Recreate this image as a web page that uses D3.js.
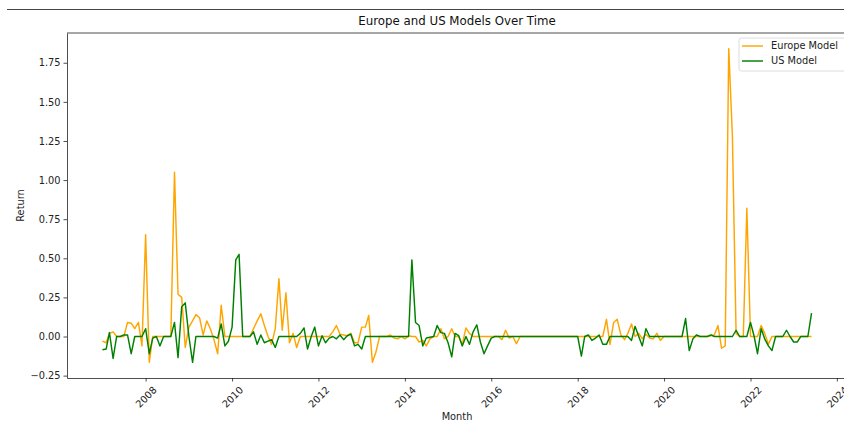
<!DOCTYPE html>
<html>
<head>
<meta charset="utf-8">
<script src="https://cdn.jsdelivr.net/npm/d3@7"></script>
<style>
  body { margin: 0; background: #fff; }
  svg { display: block; font-family: "DejaVu Sans", sans-serif; }
</style>
</head>
<body>
<script>
// monthly returns, 2007-01 .. 2023-06
var startMonth = new Date(2007, 0, 1);
var endMonth = new Date(2023, 5, 1);

var europe = [
  -0.03, -0.04, 0.02, 0.03, 0, 0, 0, 0.09, 0.085, 0.05, 0.09, -0.06,
  0.65, -0.165, 0, 0, 0, 0, 0, 0, 1.05, 0.27, 0.25, -0.07,
  0.06, 0.1, 0.14, 0.12, 0.01, 0.1, 0.05, -0.02, -0.11, 0.2, 0, 0,
  0, 0, 0, 0, 0, 0, 0.05, 0.1, 0.145, 0.07, 0, -0.05,
  0.05, 0.37, 0.04, 0.28, -0.04, 0.02, -0.07, 0, 0, 0, 0, 0,
  0, 0, 0, 0, 0.03, 0.07, 0.015, 0.01, 0.005, 0.02, -0.04, -0.04,
  0.06, 0.06, 0.135, -0.165, -0.1, 0, 0, 0, 0.01, -0.01, -0.015, 0,
  -0.015, 0.005, 0, 0, -0.035, -0.025, -0.06, -0.015, 0, 0, 0.05, -0.015,
  0, 0.05, 0, 0, -0.05, 0.055, 0.02, 0, 0, 0, 0, 0,
  0, 0, 0, -0.02, 0.04, -0.01, 0, -0.045, 0, 0, 0, 0,
  0, 0, 0, 0, 0, 0, 0, 0, 0, 0, 0, 0,
  0, 0, 0, 0, 0, 0, 0, 0, 0.11, -0.05, 0.09, 0.11,
  0.01, -0.02, 0.02, 0.08, 0, 0.02, -0.015, 0.015, -0.01, -0.015, 0.02, -0.025,
  0, 0, 0, 0, 0, 0, 0, 0, 0, 0, 0, 0,
  0, 0.005, 0.01, 0.07, -0.075, -0.06, 1.84, 1.28, 0.02, 0, 0, 0.82,
  0, 0, 0, 0.07, 0.02, -0.05, 0, 0, 0, 0, 0, 0,
  0, 0, 0, 0, 0, 0
];

var us = [
  -0.085, -0.08, 0.025, -0.14, 0, 0, 0.01, 0.01, -0.11, 0, 0, 0,
  0.05, -0.11, -0.01, 0, -0.06, 0, 0, 0, 0.09, -0.135, 0.19, 0.215,
  0, -0.165, 0, 0, 0, 0, 0, 0, -0.01, 0.08, -0.06, -0.03,
  0.06, 0.49, 0.525, 0, 0, 0, 0.03, -0.05, 0.01, -0.04, -0.03, -0.02,
  -0.07, 0, 0, 0, 0, 0, 0, 0.02, 0.055, -0.08, 0, 0.06,
  -0.06, 0.005, -0.04, -0.01, 0, -0.015, 0.01, -0.02, 0.005, 0.015, -0.06, -0.05,
  -0.08, 0, 0, 0, 0, 0, 0, 0, 0, 0, 0, 0,
  0, 0, 0.49, 0.09, 0.07, -0.06, -0.01, -0.005, 0, 0.07, 0.025, 0.02,
  -0.04, -0.13, 0.02, 0.005, -0.06, 0, -0.05, 0.03, 0.075, -0.035, -0.11, -0.06,
  -0.01, 0, 0, 0, 0, 0, 0, 0, 0, 0, 0, 0,
  0, 0, 0, 0, 0, 0, 0, 0, 0, 0, 0, 0,
  0, -0.125, 0, 0.01, -0.025, -0.01, 0.01, -0.05, -0.05, 0, 0, 0,
  0, 0, 0, -0.025, 0.065, 0, -0.06, 0.05, 0, 0, 0, 0,
  0, 0, 0, 0, 0, 0, 0.115, -0.09, -0.015, 0.01, 0, 0,
  0, 0.01, 0, 0, 0, 0, 0, 0, 0.04, 0, 0, 0,
  0.09, 0, -0.11, 0.05, -0.015, -0.06, -0.09, 0, 0, 0, 0.04, 0,
  -0.035, -0.035, 0, 0, 0, 0.15
];

var seriesNames = ["Europe Model", "US Model"];
var seriesColors = ["orange", "green"];
var yTicks = [-0.25, 0, 0.25, 0.5, 0.75, 1.0, 1.25, 1.5, 1.75];
var xTickYears = [2008, 2010, 2012, 2014, 2016, 2018, 2020, 2022, 2024];

var width = 844, height = 423;
var plotL = 67, plotR = 847, plotT = 33, plotB = 378;

var months = d3.timeMonth.range(startMonth, d3.timeMonth.offset(endMonth, 1));

var svg = d3.select("body").append("svg")
    .attr("width", width).attr("height", height);

// separator line above the figure
svg.append("line")
    .attr("x1", 7).attr("x2", width).attr("y1", 9.5).attr("y2", 9.5)
    .attr("stroke", "#444").attr("stroke-width", 1);

// matplotlib style 5% margins
var span = endMonth - startMonth;
var x = d3.scaleTime()
    .domain([new Date(+startMonth - span * 0.05), new Date(+endMonth + span * 0.05)])
    .range([plotL, plotR]);

var allVals = europe.concat(us);
var yMin = d3.min(allVals), yMax = d3.max(allVals);
var pad = (yMax - yMin) * 0.05;
var y = d3.scaleLinear()
    .domain([yMin - pad, yMax + pad])
    .range([plotB, plotT]);

// series
var line = d3.line()
    .x(function(d, i) { return x(months[i]); })
    .y(function(d) { return y(d); });

[europe, us].forEach(function(s, k) {
  svg.append("path")
      .datum(s)
      .attr("fill", "none")
      .attr("stroke", seriesColors[k])
      .attr("stroke-width", 1.45)
      .attr("stroke-linejoin", "round")
      .attr("d", line);
});

// axes
var xAxis = svg.append("g")
    .attr("transform", "translate(0," + plotB + ")")
    .call(d3.axisBottom(x)
      .tickValues(xTickYears.map(function(yr) { return new Date(yr, 0, 1); }))
      .tickFormat(d3.timeFormat("%Y"))
      .tickSize(3.5).tickSizeOuter(0));

xAxis.selectAll("text")
    .attr("y", 0).attr("dy", null)
    .attr("text-anchor", "middle")
    .attr("dominant-baseline", "central")
    .attr("transform", "translate(0,19) rotate(-45)");

var yAxis = svg.append("g")
    .attr("transform", "translate(" + plotL + ",0)")
    .call(d3.axisLeft(y)
      .tickValues(yTicks)
      .tickFormat(function(d) { return d3.format(".2f")(d).replace("-", "\u2212"); })
      .tickSize(3.5).tickSizeOuter(0));

[xAxis, yAxis].forEach(function(ax) {
  ax.selectAll("text").attr("font-size", 9.8).attr("fill", "#222")
      .attr("font-family", "DejaVu Sans");
  ax.selectAll("line").attr("stroke", "#222").attr("stroke-width", 0.8);
  ax.select(".domain").attr("stroke", "#222").attr("stroke-width", 0.8);
});

// top spine
svg.append("line")
    .attr("x1", plotL).attr("x2", plotR).attr("y1", plotT).attr("y2", plotT)
    .attr("stroke", "#222").attr("stroke-width", 0.8);

// labels
svg.append("text")
    .attr("x", (plotL + plotR) / 2).attr("y", 25)
    .attr("text-anchor", "middle")
    .attr("font-size", 11.8).attr("fill", "#111")
    .text("Europe and US Models Over Time");

svg.append("text")
    .attr("x", (plotL + plotR) / 2).attr("y", 420)
    .attr("text-anchor", "middle")
    .attr("font-size", 9.8).attr("fill", "#222")
    .text("Month");

svg.append("text")
    .attr("transform", "translate(24," + ((plotT + plotB) / 2) + ") rotate(-90)")
    .attr("text-anchor", "middle")
    .attr("font-size", 9.8).attr("fill", "#222")
    .text("Return");

// legend
var legend = svg.append("g").attr("transform", "translate(739,38)");
legend.append("rect")
    .attr("width", 108).attr("height", 33).attr("rx", 2.5)
    .attr("fill", "#fff").attr("fill-opacity", 0.8)
    .attr("stroke", "#d3d3d3").attr("stroke-width", 0.8);

seriesNames.forEach(function(name, k) {
  var ly = 8 + k * 15;
  legend.append("line")
      .attr("x1", 3).attr("x2", 24).attr("y1", ly).attr("y2", ly)
      .attr("stroke", seriesColors[k]).attr("stroke-width", 1.45);
  legend.append("text")
      .attr("x", 32).attr("y", ly).attr("dy", "0.35em")
      .attr("font-size", 9.8).attr("fill", "#222")
      .text(name);
});
</script>
</body>
</html>
